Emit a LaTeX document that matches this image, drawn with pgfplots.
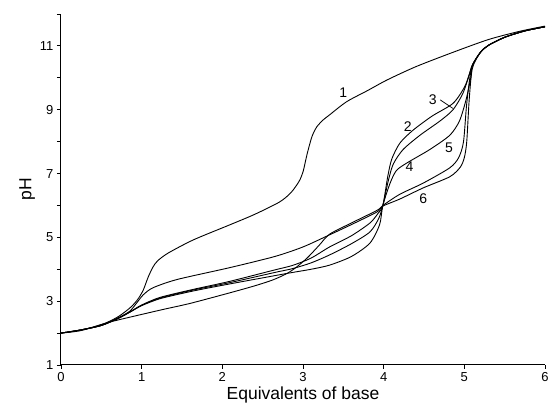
\documentclass[border=0pt]{standalone}
\usepackage{fontspec}
\setmainfont{Liberation Sans}
\usepackage{pgfplots}
\pgfplotsset{compat=1.18}
\begin{document}
\begin{tikzpicture}
\useasboundingbox (-61pt,-47pt) rectangle (489pt,365pt);
\begin{axis}[
  at={(0pt,0pt)}, anchor=south west,
  scale only axis, width=484pt, height=351pt,
  xmin=0, xmax=6, ymin=1, ymax=12,
  axis lines=left, axis line style={-, line width=1pt},
  xtick={0,1,2,3,4,5,6},
  ytick={1,2,3,4,5,6,7,8,9,10,11,12},
  yticklabels={1,,3,,5,,7,,9,,11,},
  tick align=outside, major tick length=4pt,
  tick style={black, line width=0.9pt},
  /pgf/number format/assume math mode=true,
  tick label style={font=\fontsize{13}{15}\selectfont},
  xlabel={Equivalents of base},
  ylabel={pH},
  label style={font=\fontsize{17.5}{19}\selectfont},
  xlabel style={yshift=2pt},
  ylabel style={yshift=-2pt},
  clip=false,
  curve/.style={black, solid, mark=none, line width=0.9pt, smooth, tension=0.45},
]
% curve 1
\addplot[curve] coordinates {(0,2.0)(0.25,2.1)(0.5,2.26)(0.7,2.5)(0.855,2.79)(0.95,3.05)(1.02,3.35)(1.08,3.75)(1.14,4.07)(1.2,4.27)(1.33,4.51)(1.64,4.92)(2.09,5.39)(2.4,5.72)(2.71,6.11)(2.85,6.4)(2.95,6.75)(3.0,7.05)(3.05,7.6)(3.11,8.15)(3.17,8.46)(3.25,8.68)(3.33,8.84)(3.54,9.25)(3.8,9.6)(4.04,9.93)(4.4,10.35)(4.86,10.8)(5.3,11.2)(5.69,11.46)(6.0,11.62)};
% curve 2
\addplot[curve] coordinates {(0,2)(0.25,2.1)(0.5,2.24)(0.7,2.45)(0.855,2.66)(1.0,2.88)(1.23,3.12)(1.64,3.37)(2.09,3.62)(2.65,3.98)(2.87,4.12)(3.1,4.35)(3.33,4.7)(3.6,5.05)(3.83,5.45)(3.93,5.75)(3.99,6.0)(4.05,6.9)(4.1,7.45)(4.2,7.95)(4.36,8.35)(4.6,8.8)(4.86,9.2)(5.0,9.7)(5.06,10.1)(5.1,10.4)(5.2,10.8)(5.3,11.02)(5.5,11.27)(5.75,11.47)(6,11.6)};
% curve 3
\addplot[curve] coordinates {(0,2)(0.25,2.1)(0.5,2.24)(0.7,2.45)(0.855,2.66)(1.0,2.87)(1.23,3.1)(1.64,3.35)(2.09,3.58)(2.65,3.9)(2.87,4.02)(3.1,4.2)(3.33,4.45)(3.6,4.8)(3.83,5.17)(3.94,5.6)(3.99,6.0)(4.06,6.8)(4.12,7.3)(4.24,7.75)(4.45,8.2)(4.7,8.65)(4.86,9.0)(4.98,9.5)(5.05,10.0)(5.1,10.4)(5.2,10.8)(5.3,11.02)(5.5,11.27)(5.75,11.47)(6,11.6)};
% curve 4
\addplot[curve] coordinates {(0,2)(0.25,2.1)(0.5,2.24)(0.7,2.45)(0.855,2.66)(1.0,2.86)(1.23,3.08)(1.64,3.32)(2.09,3.54)(2.65,3.8)(2.87,3.9)(3.1,4.0)(3.33,4.13)(3.6,4.4)(3.83,4.82)(3.95,5.4)(3.99,6.0)(4.08,6.7)(4.16,7.1)(4.3,7.35)(4.57,7.75)(4.82,8.2)(4.94,8.65)(5.02,9.3)(5.08,10.0)(5.1,10.4)(5.2,10.8)(5.3,11.02)(5.5,11.27)(5.75,11.47)(6,11.6)};
% curve 5
\addplot[curve] coordinates {(0,2)(0.25,2.08)(0.61,2.35)(1.23,2.72)(1.6,2.93)(2.09,3.26)(2.4,3.48)(2.62,3.66)(2.78,3.84)(2.9,4.03)(3.05,4.35)(3.2,4.75)(3.33,5.1)(3.6,5.45)(3.92,5.85)(3.99,6.0)(4.2,6.35)(4.49,6.7)(4.82,7.18)(4.93,7.5)(4.99,8.0)(5.03,9.2)(5.09,10.3)(5.2,10.8)(5.3,11.02)(5.5,11.27)(5.75,11.47)(6,11.6)};
% curve 6
\addplot[curve] coordinates {(0,2)(0.25,2.1)(0.5,2.24)(0.7,2.47)(0.85,2.68)(0.94,2.95)(1.02,3.2)(1.14,3.42)(1.44,3.68)(2.09,4.05)(2.65,4.4)(3.0,4.7)(3.33,5.08)(3.6,5.4)(3.92,5.8)(3.99,5.98)(4.2,6.2)(4.49,6.55)(4.82,6.9)(4.95,7.2)(5.0,7.5)(5.03,8.0)(5.06,9.3)(5.1,10.3)(5.2,10.8)(5.3,11.02)(5.5,11.27)(5.75,11.47)(6,11.6)};
% labels
\begin{scope}[font=\fontsize{14}{16}\selectfont]
\node at (axis cs:3.50,9.52) {1};
\node at (axis cs:4.30,8.46) {2};
\node at (axis cs:4.61,9.31) {3};
\node at (axis cs:4.32,7.21) {4};
\node at (axis cs:4.81,7.80) {5};
\node at (axis cs:4.49,6.20) {6};
\end{scope}
\draw[line width=0.7pt] (axis cs:4.70,9.31) -- (axis cs:4.86,9.04);
\end{axis}
\end{tikzpicture}
\end{document}
